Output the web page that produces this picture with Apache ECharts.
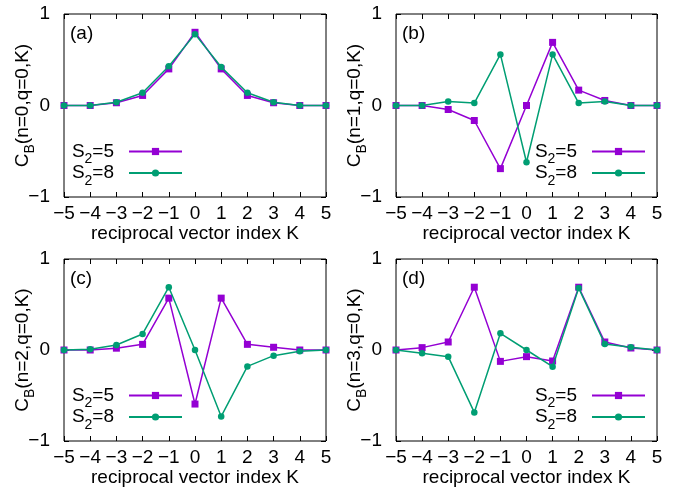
<!DOCTYPE html>
<html>
<head>
<meta charset="utf-8">
<script src="https://cdn.jsdelivr.net/npm/echarts@6/dist/echarts.min.js"></script>
<style>
  html, body { margin: 0; padding: 0; background: #fff; }
  #chart { width: 690px; height: 490px; }
</style>
</head>
<body>
<div id="chart"></div>
<script>
// Reciprocal vector index K
const kIndex = [-5, -4, -3, -2, -1, 0, 1, 2, 3, 4, 5];
const xTicks = [-5, -4, -3, -2, -1, 0, 1, 2, 3, 4, 5];
const yTicks = [-1, 0, 1];
const seriesNames = ['S2=5', 'S2=8'];
const panelTags = ['(a)', '(b)', '(c)', '(d)'];
const panelN = [0, 1, 2, 3];

// C_B(n, q=0, K) for S2=5 and S2=8
const n0S5 = [0, 0, 0.03, 0.11, 0.40, 0.80, 0.40, 0.11, 0.03, 0, 0];
const n0S8 = [0, 0, 0.035, 0.14, 0.43, 0.78, 0.42, 0.14, 0.035, 0, 0];
const n1S5 = [0, 0, -0.044, -0.164, -0.69, 0, 0.69, 0.168, 0.055, 0, 0];
const n1S8 = [0, 0, 0.044, 0.026, 0.558, -0.62, 0.558, 0.026, 0.044, 0, 0];
const n2S5 = [0, 0, 0.02, 0.062, 0.57, -0.594, 0.57, 0.062, 0.03, 0, 0];
const n2S8 = [0, 0.007, 0.055, 0.176, 0.69, 0, -0.73, -0.18, -0.062, -0.015, 0];
const n3S5 = [0, 0.026, 0.088, 0.69, -0.125, -0.073, -0.121, 0.69, 0.088, 0.022, 0];
const n3S8 = [0, -0.037, -0.073, -0.686, 0.183, 0, -0.183, 0.68, 0.066, 0.03, 0];

const panelData = [[n0S5, n0S8], [n1S5, n1S8], [n2S5, n2S8], [n3S5, n3S8]];

const FONT = 'Liberation Sans';
const PURPLE = '#9400d3';
const GREEN = '#009e73';

const grids = [
  { left: 64, top: 14, width: 262, height: 183 },
  { left: 396, top: 14, width: 261, height: 183 },
  { left: 64, top: 259, width: 262, height: 182 },
  { left: 396, top: 259, width: 261, height: 182 }
];
const legendPos = [
  { right: 507, top: 142 },
  { right: 44, top: 142 },
  { right: 507, top: 386 },
  { right: 44, top: 386 }
];

const minusFmt = v => (v < 0 ? '\u2212' + (-v) : String(v));

const xAxes = [], yAxes = [], series = [], legends = [], graphics = [];

grids.forEach((g, i) => {
  // bottom axis with labels
  xAxes.push({
    type: 'value', gridIndex: i, min: xTicks[0], max: xTicks[xTicks.length - 1], interval: 1,
    position: 'bottom',
    name: 'reciprocal vector index K', nameLocation: 'middle', nameGap: 27,
    nameTextStyle: { fontFamily: FONT, fontSize: 19, color: '#000' },
    axisLine: { show: false, onZero: false },
    axisTick: { show: true, inside: true, length: 5, lineStyle: { color: '#000', width: 1 } },
    axisLabel: { formatter: minusFmt, fontFamily: FONT, fontSize: 19, color: '#000', margin: 7 },
    splitLine: { show: false }
  });
  // mirrored top ticks
  xAxes.push({
    type: 'value', gridIndex: i, min: xTicks[0], max: xTicks[xTicks.length - 1], interval: 1,
    position: 'top',
    axisLine: { show: false, onZero: false },
    axisTick: { show: true, inside: true, length: 5, lineStyle: { color: '#000', width: 1 } },
    axisLabel: { show: false },
    splitLine: { show: false }
  });
  yAxes.push({
    type: 'value', gridIndex: i, min: yTicks[0], max: yTicks[yTicks.length - 1], interval: 1,
    position: 'left',
    name: '{t|C}{sub|B}{t|(n=' + panelN[i] + ',q=0,K)}',
    nameLocation: 'middle', nameRotate: 90, nameGap: 27, nameMoveOverlap: false,
    nameTextStyle: {
      fontFamily: FONT, color: '#000',
      rich: {
        t: { fontFamily: FONT, fontSize: 19, color: '#000' },
        sub: { fontFamily: FONT, fontSize: 14, color: '#000', padding: [14, 0, 0, 0] }
      }
    },
    axisLine: { show: false, onZero: false },
    axisTick: { show: true, inside: true, length: 5, lineStyle: { color: '#000', width: 1 } },
    axisLabel: { formatter: minusFmt, fontFamily: FONT, fontSize: 19, color: '#000', margin: 14 },
    splitLine: { show: false }
  });
  // mirrored right ticks
  yAxes.push({
    type: 'value', gridIndex: i, min: yTicks[0], max: yTicks[yTicks.length - 1], interval: 1,
    position: 'right',
    axisLine: { show: false, onZero: false },
    axisTick: { show: true, inside: true, length: 5, lineStyle: { color: '#000', width: 1 } },
    axisLabel: { show: false },
    splitLine: { show: false }
  });

  const [s5, s8] = panelData[i];
  series.push({
    name: seriesNames[0], type: 'line', xAxisIndex: 2 * i, yAxisIndex: 2 * i,
    data: kIndex.map((k, j) => [k, s5[j]]),
    symbol: 'rect', symbolSize: 7, showAllSymbol: true,
    itemStyle: { color: PURPLE }, lineStyle: { color: PURPLE, width: 1.5 },
    animation: false, z: 2
  });
  series.push({
    name: seriesNames[1], type: 'line', xAxisIndex: 2 * i, yAxisIndex: 2 * i,
    data: kIndex.map((k, j) => [k, s8[j]]),
    symbol: 'circle', symbolSize: 6.5, showAllSymbol: true,
    itemStyle: { color: GREEN }, lineStyle: { color: GREEN, width: 1.5 },
    animation: false, z: 3
  });

  legends.push(Object.assign({
    data: seriesNames, orient: 'vertical', align: 'right',
    itemWidth: 53, itemHeight: 9, itemGap: -3, padding: 0,
    selectedMode: false,
    formatter: name => '{t|S}{sub|2}{e|=' + name.split('=')[1] + '}',
    textStyle: {
      fontFamily: FONT, color: '#000',
      rich: {
        t: { fontFamily: FONT, fontSize: 19, color: '#000' },
        sub: { fontFamily: FONT, fontSize: 14, color: '#000', padding: [16, 0, 0, 0] },
        e: { fontFamily: FONT, fontSize: 19, color: '#000', padding: [0, 10, 0, 0] }
      }
    }
  }, legendPos[i]));

  graphics.push({
    type: 'text', left: g.left + 6, top: g.top + 10,
    style: { text: panelTags[i], font: '19px "' + FONT + '"', fill: '#000' }
  });
});

const chart = echarts.init(document.getElementById('chart'), null, { renderer: 'canvas' });
chart.setOption({
  backgroundColor: '#fff',
  animation: false,
  textStyle: { fontFamily: FONT },
  grid: grids.map(g => Object.assign({ show: true, borderColor: '#000', borderWidth: 1, backgroundColor: 'transparent' }, g)),
  xAxis: xAxes,
  yAxis: yAxes,
  legend: legends,
  graphic: graphics,
  series: series
});
</script>
</body>
</html>
